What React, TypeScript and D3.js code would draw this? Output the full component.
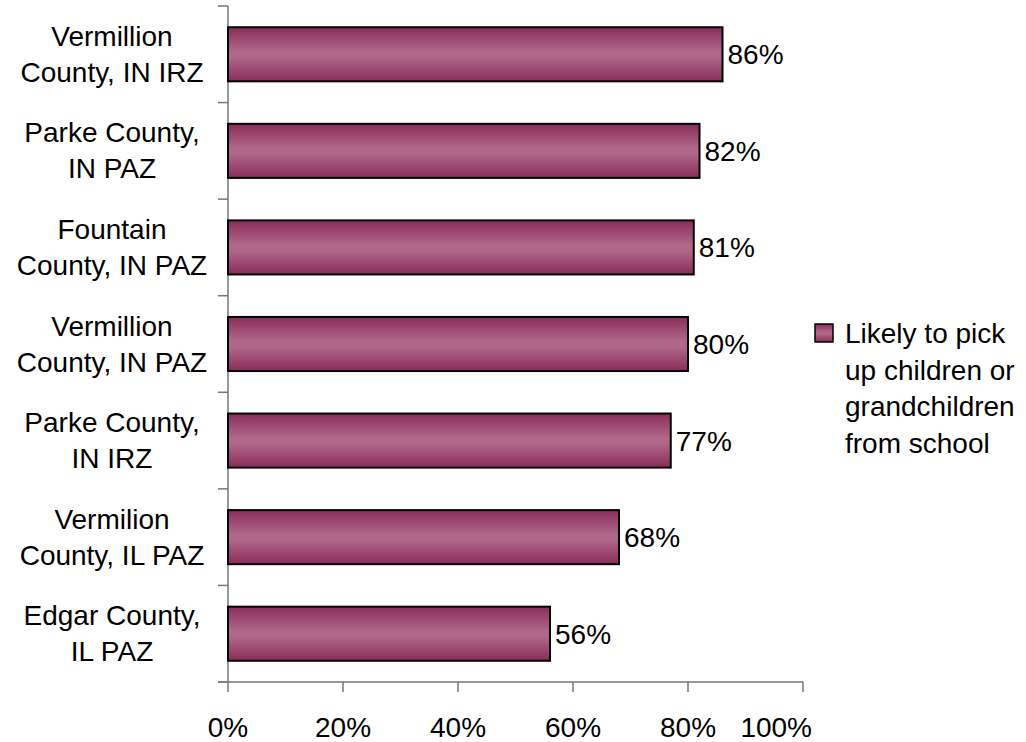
import React from 'react';
import * as d3 from 'd3';

const categories = [
  ['Vermillion', 'County, IN IRZ'],
  ['Parke County,', 'IN PAZ'],
  ['Fountain', 'County, IN PAZ'],
  ['Vermillion', 'County, IN PAZ'],
  ['Parke County,', 'IN IRZ'],
  ['Vermilion', 'County, IL PAZ'],
  ['Edgar County,', 'IL PAZ'],
];
const values = [86, 82, 81, 80, 77, 68, 56];
const xTicks = [0, 20, 40, 60, 80, 100];
const legendLines = ['Likely to pick', 'up children or', 'grandchildren', 'from school'];

const W = 1026;
const H = 742;
const font = 'Liberation Sans, Arial, sans-serif';
const fs = 28;

const App: React.FC = () => {
  const x = d3.scaleLinear().domain([0, 100]).range([228, 803]);
  const ids = categories.map((_, i) => String(i));
  const y = d3.scaleBand().domain(ids).range([6, 682]).paddingInner(0.44).paddingOuter(0.22);
  const step = y.step();
  const axisColor = '#777';

  return (
    <svg width={W} height={H} style={{ position: 'absolute', left: 0, top: 0 }}>
      <defs>
        <linearGradient id="barGrad" x1="0" y1="0" x2="0" y2="1">
          <stop offset="0%" stopColor="#8a2c5a" />
          <stop offset="45%" stopColor="#b06889" />
          <stop offset="55%" stopColor="#b06889" />
          <stop offset="100%" stopColor="#8a2c5a" />
        </linearGradient>
      </defs>
      <rect width={W} height={H} fill="#fff" />

      {/* y axis */}
      <line x1={228} x2={228} y1={6} y2={682} stroke={axisColor} strokeWidth={1.5} />
      {d3.range(categories.length + 1).map((i) => {
        const yy = 6 + i * step;
        return <line key={'yt' + i} x1={218} x2={228} y1={yy} y2={yy} stroke={axisColor} strokeWidth={1.5} />;
      })}

      {/* x axis */}
      <line x1={218} x2={x(100)} y1={682} y2={682} stroke={axisColor} strokeWidth={1.5} />
      {xTicks.map((t, i) => {
        const last = i === xTicks.length - 1;
        return (
          <g key={'xt' + t}>
            <line x1={x(t)} x2={x(t)} y1={682} y2={692} stroke={axisColor} strokeWidth={1.5} />
            <text
              x={last ? 812 : x(t)}
              y={737}
              textAnchor={last ? 'end' : 'middle'}
              fontFamily={font}
              fontSize={fs}
              fill="#000"
            >
              {t}%
            </text>
          </g>
        );
      })}

      {/* bars */}
      {values.map((v, i) => {
        const by = y(String(i))!;
        const bh = y.bandwidth();
        return (
          <g key={'b' + i}>
            <rect x={x(0)} y={by} width={x(v) - x(0)} height={bh} fill="url(#barGrad)" stroke="#000" strokeWidth={2} />
            <text x={x(v) + 5} y={by + bh / 2 + 10} fontFamily={font} fontSize={fs} fill="#000">
              {v}%
            </text>
          </g>
        );
      })}

      {/* category labels */}
      {categories.map((lines, i) => {
        const cy = 6 + (i + 0.5) * step;
        return (
          <text key={'c' + i} textAnchor="middle" fontFamily={font} fontSize={fs} fill="#000">
            {lines.map((l, j) => (
              <tspan key={j} x={112} y={cy - 8.5 + j * 36}>
                {l}
              </tspan>
            ))}
          </text>
        );
      })}

      {/* legend */}
      <rect x={815} y={324} width={18} height={18} fill="url(#barGrad)" stroke="#000" strokeWidth={1.5} />
      <text fontFamily={font} fontSize={fs} fill="#000">
        {legendLines.map((l, j) => (
          <tspan key={j} x={845} y={343 + j * 36.5}>
            {l}
          </tspan>
        ))}
      </text>
    </svg>
  );
};

export default App;
